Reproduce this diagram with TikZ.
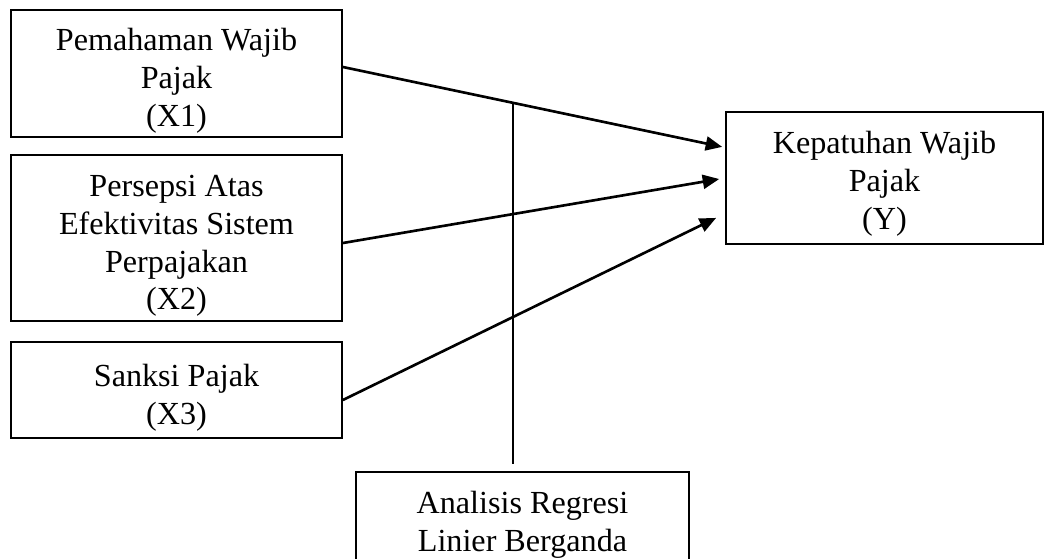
\documentclass[tikz,border=0pt]{standalone}
\usepackage{fontspec}
\setmainfont{Liberation Serif}
\usepackage{tikz}
\usetikzlibrary{arrows.meta,positioning,calc}
\newcommand{\topstrut}[1][21pt]{\rule{0pt}{#1}}
\tikzset{
  varbox/.style={draw, line width=1pt, minimum width=6.62cm, align=center, inner sep=0pt, font=\fontsize{18.3}{21.6}\selectfont},
  cline/.style={-{Triangle[length=3.3mm,width=2.8mm]}, line width=1.5pt},
  tline/.style={line width=1.1pt},
}

\begin{document}
\begin{tikzpicture}
  \useasboundingbox (0,0) rectangle (20.9,-11.16);
  \node[varbox, minimum height=2.54cm] (X1) at (3.53,-1.47) {\topstrut Pemahaman Wajib\\Pajak\\(X1)};
  \node[varbox, minimum height=3.32cm] (X2) at (3.53,-4.76) {\topstrut Persepsi Atas\\Efektivitas Sistem\\Perpajakan\\(X2)};
  \node[varbox, minimum height=1.92cm] (X3) at (3.53,-7.80) {\topstrut Sanksi Pajak\\(X3)};
  \node[varbox, minimum width=6.34cm, minimum height=2.64cm] (Y) at (17.69,-3.56) {\topstrut[19pt]Kepatuhan Wajib\\Pajak\\(Y)};
  \node[varbox, minimum width=6.66cm, minimum height=1.92cm] (reg) at (10.45,-10.4) {\topstrut[18pt]Analisis Regresi\\Linier Berganda};
  % pengaruh X ke Y
  \draw[cline, shorten >=0.06cm] ([yshift=0.13cm]X1.east) -- coordinate[pos=0.444] (m1) ([yshift=0.61cm]Y.west);
  \draw[cline, shorten >=0.12cm] ([yshift=-0.1cm]X2.east) -- (Y.west);
  \draw[cline, shorten >=0.2cm] ([yshift=-0.2cm]X3.east) -- ([yshift=-0.71cm]Y.west);
  \draw[tline, shorten >=0.14cm] (m1) -- (m1 |- reg.north);
\end{tikzpicture}
\end{document}
